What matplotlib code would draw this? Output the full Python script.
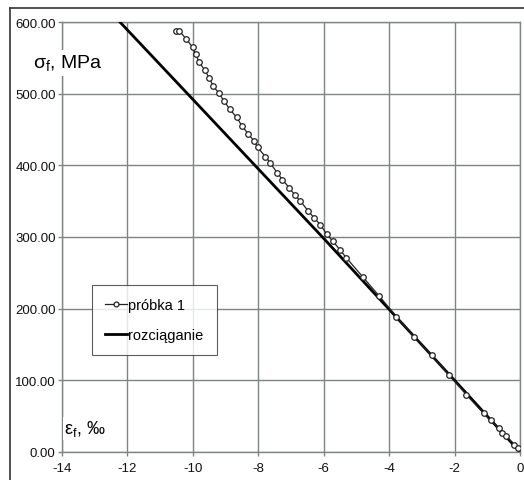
import matplotlib
matplotlib.use("Agg")
import matplotlib.pyplot as plt
from matplotlib.lines import Line2D

plt.rcParams["font.family"] = ["Liberation Sans", "DejaVu Sans"]
plt.rcParams["axes.unicode_minus"] = False

# rozciaganie (krzywa)
eps_roz = [0.0, -2.0, -4.0, -6.0, -8.0, -10.0, -12.23]
sig_roz = [0.0, 100.0, 199.0, 298.0, 395.0, 492.0, 600.0]

# probka 1 (punkty pomiarowe)
eps_p1 = [-10.53, -10.42, -10.20, -10.01, -9.91, -9.81, -9.64, -9.50, -9.38,
          -9.21, -9.05, -8.87, -8.66, -8.50, -8.31, -8.13, -8.02, -7.78,
          -7.63, -7.43, -7.26, -7.06, -6.89, -6.71, -6.47, -6.30, -6.10,
          -5.91, -5.72, -5.50, -5.31, -4.80, -4.31, -3.78, -3.24, -2.70,
          -2.17, -1.64, -1.11, -0.90, -0.65, -0.54, -0.42, -0.17, -0.07]
sig_p1 = [588, 588, 576, 565, 555, 544, 533, 522, 511,
          501, 490, 478, 467, 455, 444, 434, 425, 412,
          403, 390, 380, 369, 359, 350, 336, 327, 317,
          304, 294, 282, 271, 244, 218, 189, 161, 135,
          108, 80, 54, 44, 33, 27, 22, 10, 6]

xticks = [-14, -12, -10, -8, -6, -4, -2, 0]
yticks = [0, 100, 200, 300, 400, 500, 600]

fig = plt.figure(figsize=(5.24, 4.81), dpi=100)
ax = fig.add_axes([62 / 524, 1 - 453 / 481, 458 / 524, 430 / 481])

szary = "#7f8585"
ax.plot(eps_p1, sig_p1, "-o", color="#222222", lw=0.9, ms=4.0,
        mfc="white", mec="#222222", mew=0.9, label="próbka 1", zorder=4)
ax.plot(eps_roz, sig_roz, "-", color="black", lw=2.0, label="rozciąganie", zorder=3)

ax.set_xlim(-14, 0)
ax.set_ylim(0, 600)
ax.set_xticks(xticks)
ax.set_yticks(yticks)
ax.set_yticklabels(["%.2f" % v for v in yticks])
ax.grid(True, color=szary, lw=1.0)
ax.set_axisbelow(True)
for s in ax.spines.values():
    s.set_color(szary)
    s.set_linewidth(1.0)
ax.tick_params(colors=szary, labelcolor="#111111", labelsize=9.5, length=3, width=1.0)
ax.tick_params(axis="y", pad=1.5)
ax.tick_params(axis="x", pad=4)

ax.text(-0.063, 0.905, "σ$_\\mathregular{f}$, MPa", transform=ax.transAxes,
        fontsize=14, va="center", ha="left", zorder=5,
        bbox=dict(facecolor="white", edgecolor="none", pad=2))
ax.text(0.005, 0.055, "ε$_\\mathregular{f}$, ‰", transform=ax.transAxes,
        fontsize=13, va="center", ha="left", zorder=5,
        bbox=dict(facecolor="white", edgecolor="none", pad=1))

leg = ax.legend(loc="lower left", bbox_to_anchor=(0.065, 0.226, 0.273, 0.158),
                mode="expand", fontsize=10.5, frameon=True, fancybox=False,
                handlelength=1.5, handletextpad=0.1, labelspacing=1.1,
                borderpad=0.9, borderaxespad=0)
leg.get_frame().set_edgecolor("#333333")
leg.get_frame().set_linewidth(0.8)
leg.set_zorder(6)
for h in leg.legend_handles:
    h.set_markersize(3.5)

# ramka rysunku (gora i lewo)
fig.add_artist(Line2D([10 / 524, 1], [1 - 9 / 481, 1 - 9 / 481], color="#333333", lw=1.2))
fig.add_artist(Line2D([10 / 524, 10 / 524], [0, 1 - 9 / 481], color="#333333", lw=1.2))

fig.savefig("out.png", dpi=100)
